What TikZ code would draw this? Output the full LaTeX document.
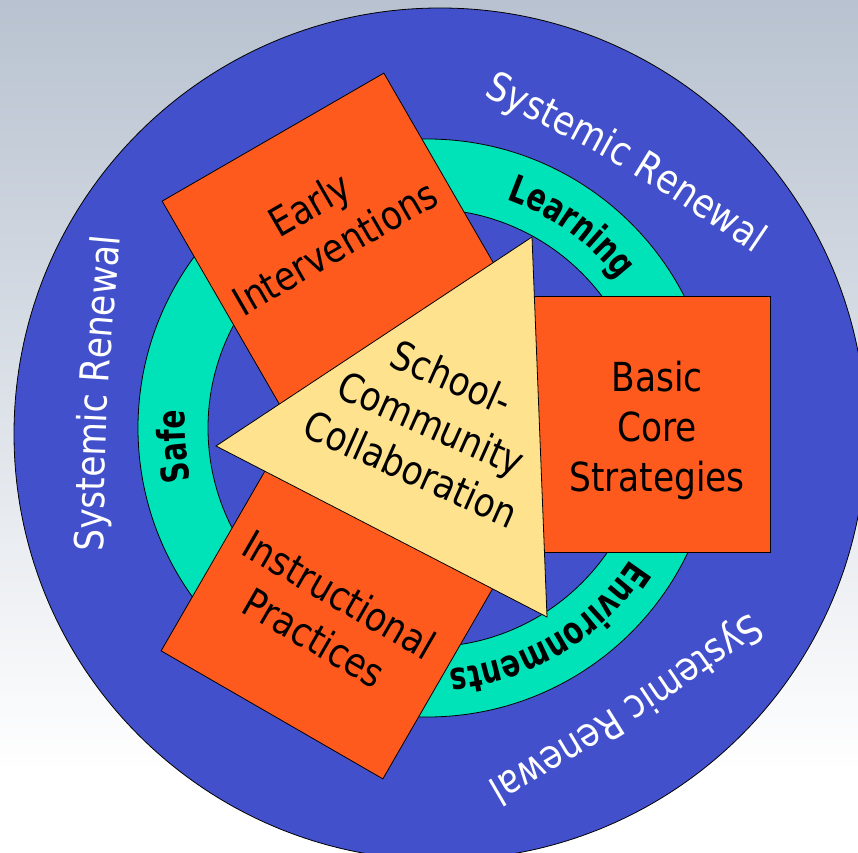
\documentclass[tikz,border=0pt]{standalone}
\usepackage{fontspec}
\setmainfont{DejaVu Sans}[FakeStretch=0.86]
\newfontfamily\ringfont{DejaVu Sans}[FakeStretch=0.74]
\usetikzlibrary{decorations.text}
\definecolor{bgtop}{RGB}{184,194,208}
\definecolor{ringblue}{RGB}{66,80,204}
\definecolor{ringteal}{RGB}{0,226,184}
\definecolor{boxorange}{RGB}{255,90,30}
\definecolor{triyellow}{RGB}{255,226,142}
\begin{document}
\begin{tikzpicture}[x=1pt,y=1pt,
  edge/.style={draw=black, line width=0.8pt},
  sq/.style={edge, fill=boxorange, shape=rectangle, minimum size=256pt, inner sep=0pt, outer sep=0pt},
  lbl/.style={align=center, inner sep=0pt, text=black, font=\fontsize{40}{50}\selectfont},
  outertext/.style={decorate, decoration={text along path, text align=center,
     text={|\fontsize{40}{40}\selectfont\color{white}|#1}}},
  ringtext/.style={decorate, decoration={text along path, text align=center,
     text={|\ringfont\fontsize{38}{38}\selectfont\bfseries\color{black}|#1}}}
  ]
\useasboundingbox (0,0) rectangle (858,852);
\clip (0,0) rectangle (858,852);
% background
\fill[white] (0,0) rectangle (858,852);
\shade[top color=bgtop, bottom color=white] (0,80) rectangle (858,852);
% outer blue disc
\draw[edge, fill=ringblue] (440,418) circle[radius=426];
% teal ring
\fill[ringteal, even odd rule] (427,424) circle[radius=289] (427,424) circle[radius=219];
\draw[edge] (427,424) circle[radius=289];
\draw[edge] (427,424) circle[radius=219];
% orange squares
\node[sq, rotate=30]  (early) at (337,604) {};
\node[sq]             (basic) at (642,428) {};
\node[sq, rotate=-30] (instr) at (336,248) {};
% triangle
\coordinate (tA) at (532,615);
\coordinate (tB) at (216,406);
\coordinate (tC) at (547,235);
\draw[edge, fill=triyellow] (tA) -- (tB) -- (tC) -- cycle;
% texts in shapes
\node[lbl, rotate=30]  (earlyT) at (322,626.5) {Early\\Interventions};
\node[lbl]             (basicT) at (657,421.5) {Basic\\Core\\Strategies};
\node[lbl, rotate=-30] (instrT) at (327,236) {Instructional\\Practices};
\node[lbl, rotate=-24] (triT) at (431.5,429) {School-\\Community\\Collaboration};
% ring labels
\path[ringtext=Learning] ([shift={(427,424)}]84.3:242) arc[start angle=84.3, end angle=24.3, radius=242];
\path[ringtext=Safe] ([shift={(427,424)}]214.2:242) arc[start angle=214.2, end angle=154.2, radius=242];
\path[ringtext=Environments] ([shift={(427,424)}]-23.8:242) arc[start angle=-23.8, end angle=-93.8, radius=242];
% outer labels
\coordinate (sr1a) at (465.2,765.6);
\coordinate (sr1b) at (771.3,586.9);
\coordinate (sr2a) at (769.7,252.8);
\coordinate (sr2b) at (466.9,57.8);
\coordinate (sr3a) at (102.9,275);
\coordinate (sr3b) at (123.1,640);
\path[outertext=Systemic Renewal] (sr1a) .. controls (624.3,686.6) .. (sr1b);
\path[outertext=Systemic Renewal] (sr2a) .. controls (622.6,148.6) .. (sr2b);
\path[outertext=Systemic Renewal] (sr3a) .. controls (106.3,458.2) .. (sr3b);
\end{tikzpicture}
\end{document}
